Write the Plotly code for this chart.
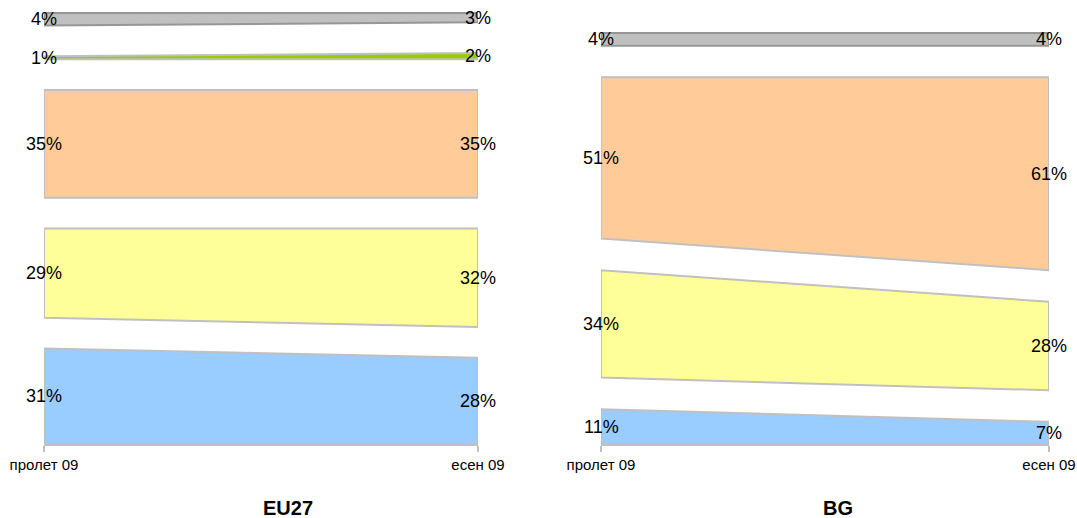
import plotly.graph_objects as go

periods = ["пролет 09", "есен 09"]
panels = ["EU27", "BG"]

# band values, bottom to top, [spring, autumn]
eu_blue = [31, 28]
eu_yellow = [29, 32]
eu_orange = [35, 35]
eu_green = [1, 2]
eu_gray = [4, 3]

bg_blue = [11, 7]
bg_yellow = [34, 28]
bg_orange = [51, 61]
bg_gray = [4, 4]

gap = 10  # white space between bands

colors = {"blue": "#99ccff", "yellow": "#ffff99", "orange": "#ffcc99",
          "green": "#99cc00", "gray": "#c0c0c0"}
edges = {"blue": "#c0c0c0", "yellow": "#c0c0c0", "orange": "#c0c0c0",
         "green": "#c0c0c0", "gray": "#969696"}

series = [
    [("blue", eu_blue), ("yellow", eu_yellow), ("orange", eu_orange),
     ("green", eu_green), ("gray", eu_gray)],
    [("blue", bg_blue), ("yellow", bg_yellow), ("orange", bg_orange),
     ("gray", bg_gray)],
]

fig = go.Figure()
annotations = []

for i, bands in enumerate(series):
    xa = "x" if i == 0 else "x2"
    ya = "y" if i == 0 else "y2"
    low = [0, 0]
    for name, vals in bands:
        up = [low[0] + vals[0], low[1] + vals[1]]
        # polygon for the band
        fig.add_trace(go.Scatter(
            x=[0, 1, 1, 0, 0],
            y=[low[0], low[1], up[1], up[0], low[0]],
            fill="toself", fillcolor=colors[name], mode="lines",
            line=dict(color=edges[name], width=2),
            xaxis=xa, yaxis=ya, hoverinfo="skip", showlegend=False))
        for j in range(2):
            annotations.append(dict(
                x=j, y=(low[j] + up[j]) / 2, xref=xa, yref=ya,
                text=f"{vals[j]}%", showarrow=False, xanchor="center",
                font=dict(size=18, color="#000000")))
        low = [up[0] + gap, up[1] + gap]

for i, title in enumerate(panels):
    annotations.append(dict(
        x=[0.2423, 0.7939][i], y=-0.1475, xref="paper", yref="paper",
        text=f"<b>{title}</b>", showarrow=False, yanchor="middle",
        font=dict(size=20, color="#000000")))

xcommon = dict(range=[0, 1], tickvals=[0, 1], ticktext=periods,
               showgrid=False, zeroline=False, showline=True,
               linecolor="#c0c0c0", linewidth=2, ticks="outside",
               tickcolor="#c0c0c0", ticklen=6, tickwidth=2,
               automargin=False,
               tickfont=dict(size=15, color="#000000"))
ycommon = dict(showgrid=False, zeroline=False, showticklabels=False,
               showline=False, automargin=False)

fig.update_layout(
    width=1077, height=518,
    margin=dict(l=0, r=0, t=10, b=74, autoexpand=False),
    plot_bgcolor="white", paper_bgcolor="white",
    font=dict(family="Liberation Sans, Arial, sans-serif"),
    xaxis=dict(domain=[44 / 1077, 478 / 1077], **xcommon),
    xaxis2=dict(domain=[601 / 1077, 1049 / 1077], **xcommon),
    yaxis=dict(range=[0, 141], **ycommon),
    yaxis2=dict(range=[0, 137.3], anchor="x2", **ycommon),
    annotations=annotations,
)

# drop the default body margin so the figure fills the window
fig.write_html("out.html",
               config={"displayModeBar": False},
               post_script="document.body.style.margin='0';"
                           "document.body.style.overflow='hidden';")
